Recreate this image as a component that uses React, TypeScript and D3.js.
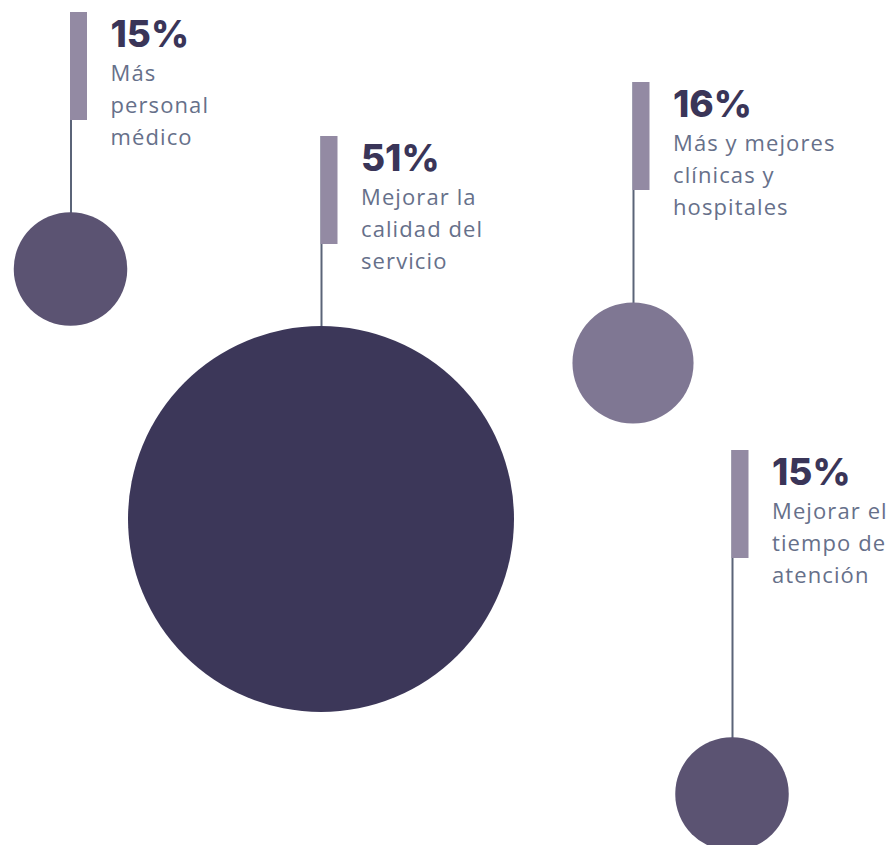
import React, { useRef, useEffect } from 'react'
import * as d3 from 'd3'

// data
const values = [15, 51, 16, 15]
const headings = ['15%', '51%', '16%', '15%']
const labels = [
	['Más', 'personal', 'médico'],
	['Mejorar la', 'calidad del', 'servicio'],
	['Más y mejores', 'clínicas y', 'hospitales'],
	['Mejorar el', 'tiempo de', 'atención'],
]
const fills = ['#5b5372', '#3c3759', '#7f7793', '#5b5372']

// layout: where each bubble sits and where its stem starts
const anchors = [
	{ cx: 70.5, cy: 269, top: 12 },
	{ cx: 321, cy: 519, top: 136 },
	{ cx: 633, cy: 363, top: 82 },
	{ cx: 732, cy: 794, top: 450 },
]

const W = 893,
	H = 845

const App = () => {
	const svgRef = useRef<SVGSVGElement | null>(null)

	useEffect(() => {
		const svg = d3.select(svgRef.current)
		svg.selectAll('*').remove()

		const r = d3.scaleLinear().domain([0, 51]).range([0, 193])

		const rows = values.map((v, i) => ({
			value: v,
			heading: headings[i],
			lines: labels[i],
			fill: fills[i],
			...anchors[i],
		}))

		const g = svg
			.selectAll('g.bubble')
			.data(rows)
			.enter()
			.append('g')
			.attr('class', 'bubble')

		g.append('line')
			.attr('x1', (d) => d.cx + 0.5)
			.attr('x2', (d) => d.cx + 0.5)
			.attr('y1', (d) => d.top)
			.attr('y2', (d) => d.cy - r(d.value) + 1)
			.attr('stroke', '#5b6478')
			.attr('stroke-width', 2)

		g.append('rect')
			.attr('x', (d) => d.cx - 0.5)
			.attr('y', (d) => d.top)
			.attr('width', 17)
			.attr('height', 108)
			.attr('fill', '#938aa3')

		g.append('circle')
			.attr('cx', (d) => d.cx)
			.attr('cy', (d) => d.cy)
			.attr('r', (d) => r(d.value))
			.attr('fill', (d) => d.fill)

		g.append('text')
			.attr('x', (d) => d.cx + 40)
			.attr('y', (d) => d.top + 35)
			.attr('font-family', 'Inter, sans-serif')
			.attr('font-weight', 800)
			.attr('font-size', 37)
			.attr('fill', '#3a3558')
			.text((d) => d.heading)

		g.each(function (d) {
			d3.select(this)
				.selectAll('text.lbl')
				.data(d.lines)
				.enter()
				.append('text')
				.attr('class', 'lbl')
				.attr('x', d.cx + 40)
				.attr('y', (_, j) => d.top + 69 + j * 32)
				.attr('font-family', '"Open Sans", sans-serif')
				.attr('font-size', 22)
				.attr('letter-spacing', 1.1)
				.attr('fill', '#66708a')
				.text((t) => t)
		})
	}, [])

	return (
		<svg
			ref={svgRef}
			width={W}
			height={H}
			style={{ position: 'absolute', left: 0, top: 0, background: '#fff' }}
		></svg>
	)
}

export default App
